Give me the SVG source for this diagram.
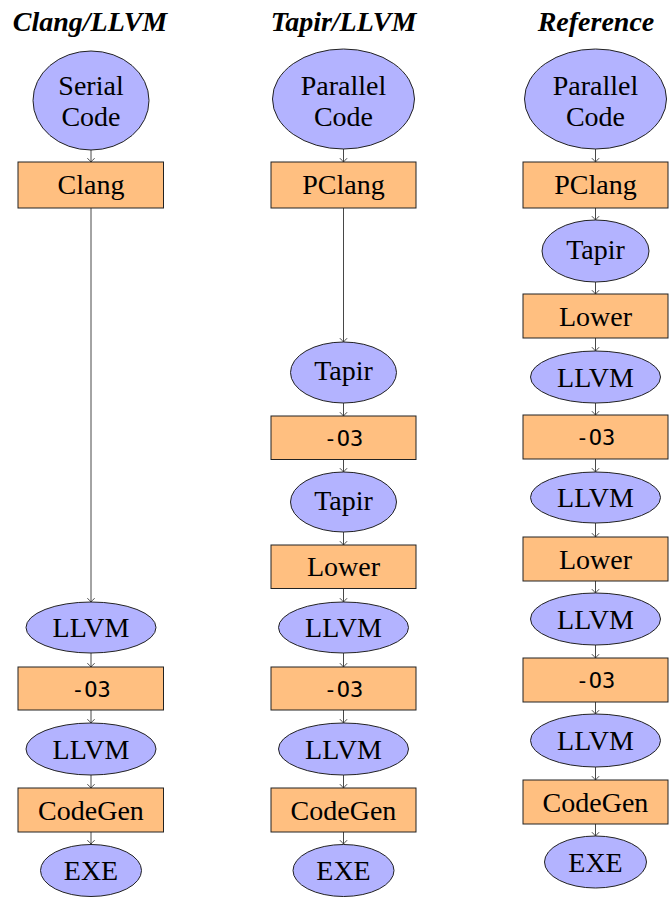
<svg xmlns="http://www.w3.org/2000/svg" width="669" height="898" viewBox="0 0 669 898">
<defs>
<marker id="arr" markerUnits="userSpaceOnUse" markerWidth="10" markerHeight="10" viewBox="-5 -5 10 10" refX="0" refY="0" orient="auto">
<path d="M-3.8,-3.6 Q-1.2,-1 0,0 Q-1.2,1 -3.8,3.6" fill="none" stroke="#333" stroke-width="0.9"/>
</marker>
</defs>
<style>
.title{font-family:"Liberation Serif","Times New Roman",serif;font-weight:bold;font-style:italic;font-size:28px;text-anchor:middle;fill:#000}
.el{fill:#b3b3ff;stroke:#222;stroke-width:1}
.bx{fill:#ffbf80;stroke:#222;stroke-width:1}
.t{font-family:"Liberation Serif","Times New Roman",serif;font-size:28px;text-anchor:middle;fill:#000}
.m{font-family:"DejaVu Sans Mono",monospace;font-size:22px;text-anchor:middle;fill:#000}
.c{stroke:#333;stroke-width:0.9;fill:none;marker-end:url(#arr)}
</style>
<rect width="669" height="898" fill="#fff"/>
<text class="title" x="90" y="31">Clang/LLVM</text>
<text class="title" x="343.5" y="31">Tapir/LLVM</text>
<text class="title" x="596" y="31">Reference</text>

<g id="connectors">
<line class="c" x1="91" y1="150" x2="91" y2="162"/>
<line class="c" x1="91" y1="208" x2="91" y2="602"/>
<line class="c" x1="91" y1="653" x2="91" y2="667"/>
<line class="c" x1="91" y1="710" x2="91" y2="723"/>
<line class="c" x1="91" y1="775" x2="91" y2="788"/>
<line class="c" x1="91" y1="832" x2="91" y2="844"/>

<line class="c" x1="343.5" y1="149" x2="343.5" y2="162"/>
<line class="c" x1="343.5" y1="208" x2="343.5" y2="342"/>
<line class="c" x1="343.5" y1="403" x2="343.5" y2="416"/>
<line class="c" x1="343.5" y1="459.5" x2="343.5" y2="472"/>
<line class="c" x1="343.5" y1="532" x2="343.5" y2="545"/>
<line class="c" x1="343.5" y1="588.5" x2="343.5" y2="602"/>
<line class="c" x1="343.5" y1="653" x2="343.5" y2="667"/>
<line class="c" x1="343.5" y1="710" x2="343.5" y2="723"/>
<line class="c" x1="343.5" y1="775" x2="343.5" y2="788"/>
<line class="c" x1="343.5" y1="832" x2="343.5" y2="844"/>

<line class="c" x1="595.5" y1="149" x2="595.5" y2="162"/>
<line class="c" x1="595.5" y1="208" x2="595.5" y2="220"/>
<line class="c" x1="595.5" y1="282" x2="595.5" y2="294"/>
<line class="c" x1="595.5" y1="338" x2="595.5" y2="351"/>
<line class="c" x1="595.5" y1="403" x2="595.5" y2="415"/>
<line class="c" x1="595.5" y1="459" x2="595.5" y2="472"/>
<line class="c" x1="595.5" y1="523" x2="595.5" y2="537"/>
<line class="c" x1="595.5" y1="581" x2="595.5" y2="593"/>
<line class="c" x1="595.5" y1="645" x2="595.5" y2="658"/>
<line class="c" x1="595.5" y1="702" x2="595.5" y2="714"/>
<line class="c" x1="595.5" y1="767" x2="595.5" y2="780"/>
<line class="c" x1="595.5" y1="824" x2="595.5" y2="836"/>
</g>

<!-- Column 1 -->
<g id="c1-serial"><ellipse class="el" cx="91" cy="100.5" rx="58" ry="49.5"/><text class="t" x="91" y="95">Serial</text><text class="t" x="91" y="126">Code</text></g>
<g id="c1-clang"><rect class="bx" x="18" y="162" width="145.5" height="46"/><text class="t" x="91" y="194">Clang</text></g>
<g id="c1-llvm1"><ellipse class="el" cx="91" cy="627.5" rx="65" ry="25.5"/><text class="t" x="91" y="637">LLVM</text></g>
<g id="c1-o3"><rect class="bx" x="18" y="667" width="145.5" height="43"/><text class="m" x="91" y="696.5">-O3</text></g>
<g id="c1-llvm2"><ellipse class="el" cx="91" cy="749" rx="65" ry="26"/><text class="t" x="91" y="758.5">LLVM</text></g>
<g id="c1-codegen"><rect class="bx" x="18" y="788" width="145.5" height="44"/><text class="t" x="91" y="819.5">CodeGen</text></g>
<g id="c1-exe"><ellipse class="el" cx="91" cy="870.5" rx="50.5" ry="26"/><text class="t" x="91" y="880">EXE</text></g>

<!-- Column 2 -->
<g id="c2-parallel"><ellipse class="el" cx="343.5" cy="99" rx="71" ry="50"/><text class="t" x="343.5" y="95">Parallel</text><text class="t" x="343.5" y="126">Code</text></g>
<g id="c2-pclang"><rect class="bx" x="271" y="162" width="145" height="46"/><text class="t" x="343.5" y="194">PClang</text></g>
<g id="c2-tapir1"><ellipse class="el" cx="343.5" cy="372.5" rx="53" ry="30.5"/><text class="t" x="343.5" y="380">Tapir</text></g>
<g id="c2-o3a"><rect class="bx" x="271" y="416" width="145" height="43.5"/><text class="m" x="343.5" y="445.5">-O3</text></g>
<g id="c2-tapir2"><ellipse class="el" cx="343.5" cy="502" rx="53" ry="30"/><text class="t" x="343.5" y="509.5">Tapir</text></g>
<g id="c2-lower"><rect class="bx" x="271" y="545" width="145" height="43.5"/><text class="t" x="343.5" y="576">Lower</text></g>
<g id="c2-llvm1"><ellipse class="el" cx="343.5" cy="627.5" rx="65" ry="25.5"/><text class="t" x="343.5" y="637">LLVM</text></g>
<g id="c2-o3b"><rect class="bx" x="271" y="667" width="145" height="43"/><text class="m" x="343.5" y="696.5">-O3</text></g>
<g id="c2-llvm2"><ellipse class="el" cx="343.5" cy="749" rx="65" ry="26"/><text class="t" x="343.5" y="758.5">LLVM</text></g>
<g id="c2-codegen"><rect class="bx" x="271" y="788" width="145" height="44"/><text class="t" x="343.5" y="819.5">CodeGen</text></g>
<g id="c2-exe"><ellipse class="el" cx="343.5" cy="870.5" rx="50.5" ry="26"/><text class="t" x="343.5" y="880">EXE</text></g>

<!-- Column 3 -->
<g id="c3-parallel"><ellipse class="el" cx="595.5" cy="99" rx="71" ry="50"/><text class="t" x="595.5" y="95">Parallel</text><text class="t" x="595.5" y="126">Code</text></g>
<g id="c3-pclang"><rect class="bx" x="523" y="162" width="145" height="46"/><text class="t" x="595.5" y="194">PClang</text></g>
<g id="c3-tapir"><ellipse class="el" cx="595.5" cy="251" rx="53.5" ry="31"/><text class="t" x="595.5" y="258.5">Tapir</text></g>
<g id="c3-lower1"><rect class="bx" x="523" y="294" width="145" height="44"/><text class="t" x="595.5" y="325.5">Lower</text></g>
<g id="c3-llvm1"><ellipse class="el" cx="595.5" cy="377" rx="65" ry="26"/><text class="t" x="595.5" y="386.5">LLVM</text></g>
<g id="c3-o3a"><rect class="bx" x="523" y="415" width="145" height="44"/><text class="m" x="595.5" y="445">-O3</text></g>
<g id="c3-llvm2"><ellipse class="el" cx="595.5" cy="497.5" rx="65" ry="25.5"/><text class="t" x="595.5" y="507">LLVM</text></g>
<g id="c3-lower2"><rect class="bx" x="523" y="537" width="145" height="44"/><text class="t" x="595.5" y="568.5">Lower</text></g>
<g id="c3-llvm3"><ellipse class="el" cx="595.5" cy="619" rx="65" ry="26"/><text class="t" x="595.5" y="628.5">LLVM</text></g>
<g id="c3-o3b"><rect class="bx" x="523" y="658" width="145" height="44"/><text class="m" x="595.5" y="688">-O3</text></g>
<g id="c3-llvm4"><ellipse class="el" cx="595.5" cy="740.5" rx="65" ry="26.5"/><text class="t" x="595.5" y="750">LLVM</text></g>
<g id="c3-codegen"><rect class="bx" x="523" y="780" width="145" height="44"/><text class="t" x="595.5" y="811.5">CodeGen</text></g>
<g id="c3-exe"><ellipse class="el" cx="595.5" cy="862" rx="51" ry="26"/><text class="t" x="595.5" y="871.5">EXE</text></g>
</svg>
